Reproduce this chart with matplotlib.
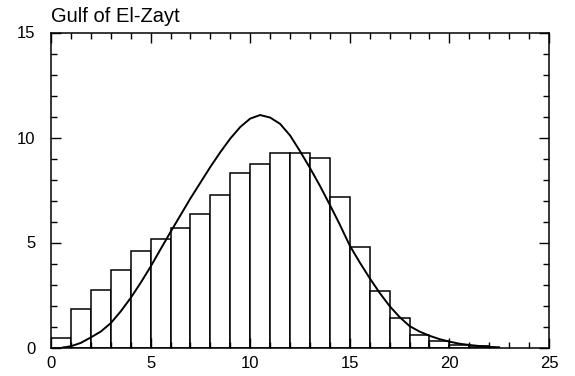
import matplotlib.pyplot as plt
from matplotlib.ticker import MultipleLocator

# histogram bins (left edges, width 1) and heights
bin_left = list(range(0, 22))
bin_height = [0.43, 1.82, 2.76, 3.68, 4.6, 5.16, 5.67, 6.38, 7.24, 8.29,
              8.76, 9.24, 9.24, 9.04, 7.19, 4.8, 2.7, 1.41, 0.6, 0.3,
              0.13, 0.05]

# fitted curve, sampled off the figure
curve_x = [0.6, 1.0, 1.5, 2.0, 2.5, 3.0, 3.5, 4.0, 4.5, 5.0, 5.5, 6.0,
           6.5, 7.0, 7.5, 8.0, 8.5, 9.0, 9.5, 10.0, 10.5, 11.0, 11.5,
           12.0, 12.5, 13.0, 13.5, 14.0, 14.5, 15.0, 15.5, 16.0, 16.5,
           17.0, 17.5, 18.0, 18.5, 19.0, 19.5, 20.0, 20.5, 21.0, 21.5,
           22.0, 22.5]
curve_y = [0.0, 0.06, 0.22, 0.48, 0.76, 1.16, 1.72, 2.36, 3.08, 3.85,
           4.68, 5.5, 6.3, 7.1, 7.85, 8.6, 9.3, 9.95, 10.5, 10.9, 11.07,
           10.95, 10.65, 10.1, 9.35, 8.55, 7.7, 6.79, 5.85, 4.85, 4.05,
           3.3, 2.6, 1.97, 1.45, 1.02, 0.76, 0.56, 0.4, 0.28, 0.18, 0.12,
           0.07, 0.03, 0.01]

plt.rcParams['font.family'] = ['Liberation Sans', 'DejaVu Sans']

fig = plt.figure(figsize=(5.75, 3.76), dpi=100)
ax = fig.add_axes([51 / 575, 1 - 347.5 / 376, 498 / 575, 315 / 376])

ax.bar(bin_left, bin_height, width=1.0, align='edge', facecolor='white',
       edgecolor='black', linewidth=1.1)
ax.plot(curve_x, curve_y, color='black', linewidth=1.4)

ax.set_xlim(0, 25)
ax.set_ylim(0, 15)
ax.xaxis.set_major_locator(MultipleLocator(5))
ax.xaxis.set_minor_locator(MultipleLocator(1))
ax.yaxis.set_major_locator(MultipleLocator(5))
ax.yaxis.set_minor_locator(MultipleLocator(1))
ax.tick_params(which='both', direction='in', top=True, right=True,
               width=1, labelsize=12)
ax.tick_params(which='major', length=7)
ax.tick_params(which='minor', length=4)
ax.tick_params(axis='x', pad=6)
ax.tick_params(axis='y', pad=11)
for s in ax.spines.values():
    s.set_linewidth(1.1)

ax.text(0, 1.02, 'Gulf of El-Zayt', transform=ax.transAxes,
        fontsize=14.5, ha='left', va='bottom')

fig.savefig('out.png', dpi=100)
